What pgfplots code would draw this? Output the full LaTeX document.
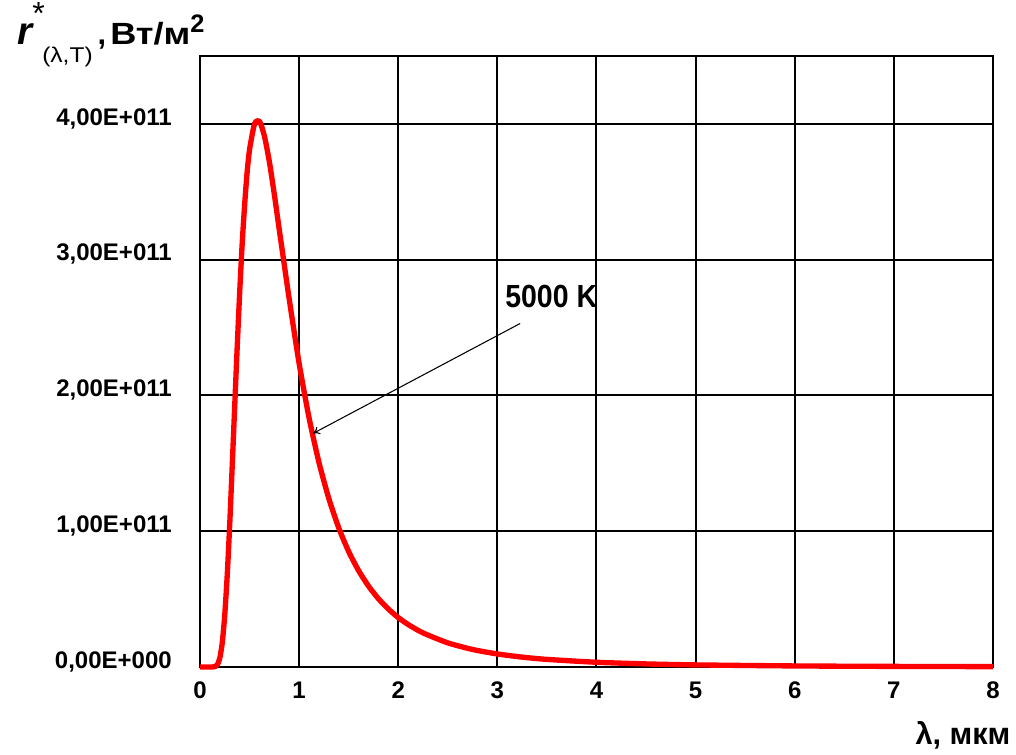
\documentclass[border=0pt]{standalone}
\usepackage{fontspec}
\setmainfont{Liberation Sans}
\newfontfamily\condensed[FakeStretch=0.89]{Liberation Sans}
\newfontfamily\widefont[FakeStretch=1.18]{Liberation Sans}
\newfontfamily\subfont[FakeStretch=1.15]{Liberation Sans}
\usepackage{pgfplots}
\pgfplotsset{compat=1.18}
\usetikzlibrary{arrows.meta}
\begin{document}
\begin{tikzpicture}
\useasboundingbox (-150pt,-66pt) rectangle (612pt,500.25pt);
\begin{axis}[
  at={(0,0)}, anchor=south west, scale only axis,
  width=594.75pt, height=458.25pt,
  xmin=0, xmax=8, ymin=0, ymax=4.5e11,
  xtick={0,1,2,3,4,5,6,7,8},
  xticklabels={0,1,2,3,4,5,6,7,8},
  ytick={0,1e11,2e11,3e11,4e11},
  yticklabels={{0,00E+000},{1,00E+011},{2,00E+011},{3,00E+011},{4,00E+011}},
  scaled y ticks=false,
  /pgf/number format/assume math mode=true,
  grid=major,
  major grid style={black, line width=1.5pt},
  axis line style={black, line width=0.8pt},
  major tick length=0pt,
  ticklabel style={font=\fontsize{18}{18}\selectfont\bfseries},
  yticklabel style={inner sep=0pt, anchor=base east, xshift=-21pt, yshift=-1pt},
  xticklabel style={inner sep=0pt, yshift=-11pt},
  clip=false,
]
\addplot[red, line width=4pt, line join=round, smooth, tension=0.4] coordinates {
(0,0) (0.1,0) (0.15,2.3e8) (0.175,1.66e9) (0.2,6.6e9) (0.225,1.81e10)
(0.25,3.85e10) (0.275,6.8e10) (0.3,1.053e11) (0.325,1.48e11) (0.35,1.918e11)
(0.375,2.35e11) (0.4,2.753e11) (0.425,3.11e11) (0.45,3.40e11) (0.475,3.64e11)
(0.5,3.81e11) (0.55,4.00e11) (0.6,4.02e11) (0.65,3.91e11) (0.7,3.72e11)
(0.75,3.48e11) (0.8,3.22e11) (0.9,2.71e11) (1.0,2.236e11) (1.1,1.836e11)
(1.2,1.507e11) (1.3,1.240e11) (1.4,1.024e11) (1.5,8.50e10) (1.6,7.10e10)
(1.7,5.96e10) (1.8,5.03e10) (1.9,4.27e10) (2.0,3.64e10) (2.1,3.13e10)
(2.25,2.51e10) (2.5,1.777e10) (2.75,1.29e10) (3.0,9.59e9) (3.25,7.26e9)
(3.5,5.60e9) (4.0,3.48e9) (4.5,2.27e9) (5.0,1.54e9) (6.0,7.8e8) (7.0,4.4e8) (8.0,2.6e8)
};
\draw[black, line width=0.8pt, -{To[length=5pt,width=6pt]}] (axis cs:3.23,2.53e11) -- (axis cs:1.14,1.72e11);
\node[anchor=west, inner sep=0pt, font=\condensed\fontsize{24}{24}\selectfont\bfseries] at (axis cs:3.077,2.729e11) {5000 K};
\end{axis}
% y-axis title
\node[anchor=base west, inner sep=0pt, font=\fontsize{29}{29}\selectfont\bfseries\itshape] at (-137.25pt,466.5pt) {r};
\node[anchor=north west, inner sep=0pt, font=\fontsize{24}{24}\selectfont] at (-126pt,498.75pt) {*};
\node[anchor=north west, inner sep=0pt, font=\subfont\fontsize{16}{16}\selectfont] at (-118.5pt,465pt) {(λ,T)};
\node[anchor=base west, inner sep=0pt, font=\fontsize{23}{23}\selectfont\bfseries] at (-77pt,466.5pt) {,};
\node[anchor=base west, inner sep=0pt, font=\widefont\fontsize{23}{23}\selectfont\bfseries] at (-67.5pt,466.5pt) {Вт/м};
\node[anchor=north west, inner sep=0pt, font=\fontsize{19}{19}\selectfont\bfseries] at (-7.5pt,489pt) {2};
% x-axis title
\node[anchor=base east, inner sep=0pt, font=\fontsize{23}{23}\selectfont\bfseries] at (608pt,-58.5pt) {λ, мкм};
\end{tikzpicture}
\end{document}
